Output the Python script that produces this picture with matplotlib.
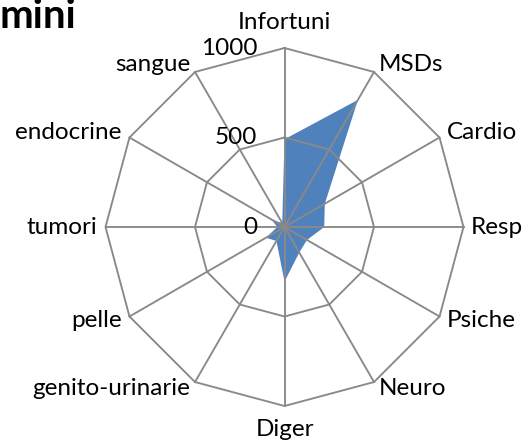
import numpy as np
import matplotlib
matplotlib.use("Agg")
import matplotlib.pyplot as plt

plt.rcParams['font.family'] = ['Lato', 'DejaVu Sans']

categories = ["Infortuni", "MSDs", "Cardio", "Resp", "Psiche", "Neuro", "Diger",
              "genito-urinarie", "pelle", "tumori", "endocrine", "sangue"]
values = [490, 820, 260, 222, 145, 165, 305, 90, 120, 40, 85, 25]
ring_values = [500, 1000]
tick_values = [0, 500, 1000]
tick_labels = ["0", "500", "1000"]
title_text = "mini"

W, H = 525, 444
fig = plt.figure(figsize=(W / 100, H / 100), dpi=100)
cx, cy, R = 284.5, 227, 179
ax = fig.add_axes([(cx - R) / W, 1 - (cy + R) / H, 2 * R / W, 2 * R / H], projection='polar')
ax.set_theta_zero_location('N')
ax.set_theta_direction(-1)
ax.set_ylim(0, 1000)
ax.grid(False)
ax.spines['polar'].set_visible(False)
ax.set_xticks([])
ax.set_yticks([])
ax.patch.set_alpha(0)

n = len(categories)
angles = np.arange(n) * 2 * np.pi / n
closed_a = np.append(angles, angles[0])

grid_color = '#898989'
ax.fill(closed_a, values + values[:1], color='#4F81BD', zorder=1, lw=0)
for rv in ring_values:
    ax.plot(closed_a, [rv] * (n + 1), color=grid_color, lw=1.35, zorder=2, clip_on=False)
for a in angles:
    ax.plot([a, a], [0, ring_values[-1]], color=grid_color, lw=1.35, zorder=2, clip_on=False)

offsets = [(0, 26, 'center'), (5, 7, 'left'), (7, 5, 'left'), (7, 0, 'left'),
           (7, -4, 'left'), (5, -6, 'left'), (0, -24, 'center'), (-5, -6, 'right'),
           (-8, -4, 'right'), (-8, 0, 'right'), (-8, 5, 'right'), (-5, 7, 'right')]
for a, lab, (dx, dy, ha) in zip(angles, categories, offsets):
    ax.annotate(lab, xy=(a, 1000), xytext=(dx, dy), textcoords='offset pixels',
                ha=ha, va='center', fontsize=17.5, color='black', annotation_clip=False)

for tv, tl in zip(tick_values, tick_labels):
    ax.annotate(tl, xy=(0, tv), xytext=(-27, 0), textcoords='offset pixels',
                ha='right', va='center', fontsize=17.5, color='black', annotation_clip=False)

fig.text(0 / W, 1 - 17 / H, title_text, ha='left', va='center', fontsize=29,
         fontweight='bold', color='black')

fig.savefig('out.png', dpi=100)
